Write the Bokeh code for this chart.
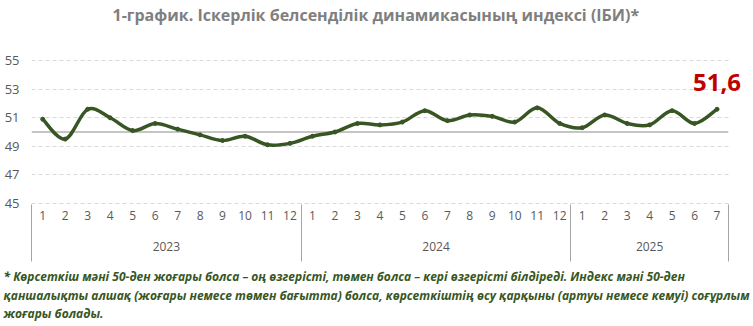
import numpy as np
from bokeh.plotting import figure
from bokeh.models import FixedTicker, LinearAxis, Label, Range1d, ColumnDataSource, Title
from bokeh.embed import file_html
from bokeh.resources import INLINE

title_text = "1-график. Іскерлік белсенділік динамикасының индексі (ІБИ)*"
years = ["2023", "2024", "2025"]
months_per_year = [12, 12, 7]
month_labels = [str(m) for m in range(1, 13)] + [str(m) for m in range(1, 13)] + [str(m) for m in range(1, 8)]
index_values = [50.9, 49.5, 51.6, 51.0, 50.1, 50.6, 50.2, 49.8, 49.4, 49.7, 49.1, 49.2,
                49.7, 50.0, 50.6, 50.5, 50.7, 51.5, 50.8, 51.2, 51.1, 50.7, 51.7, 50.6,
                50.3, 51.2, 50.6, 50.5, 51.5, 50.6, 51.6]
y_ticks = [45, 47, 49, 51, 53, 55]
threshold = 50
footnote_lines = [
    "* Көрсеткіш мәні 50-ден жоғары болса – оң өзгерісті, төмен болса – кері өзгерісті білдіреді. Индекс мәні 50-ден",
    "қаншалықты алшақ (жоғары немесе төмен бағытта) болса, көрсеткіштің өсу қарқыны (артуы немесе кемуі) соғұрлым",
    "жоғары болады.",
]

LINE_COLOR = "#375623"
GREY_TXT = "#595959"

n = len(index_values)
xs = np.arange(n, dtype=float)
ys = np.array(index_values, dtype=float)

# Smooth curve (Catmull-Rom style Bezier segments) through the data points
x0, y0, x1, y1, cx0, cy0, cx1, cy1 = [], [], [], [], [], [], [], []
for i in range(n - 1):
    pa = (xs[i - 1], ys[i - 1]) if i > 0 else (xs[i], ys[i])
    pb = (xs[i], ys[i])
    pc = (xs[i + 1], ys[i + 1])
    pd = (xs[i + 2], ys[i + 2]) if i + 2 < n else (xs[i + 1], ys[i + 1])
    x0.append(pb[0]); y0.append(pb[1]); x1.append(pc[0]); y1.append(pc[1])
    cx0.append(pb[0] + (pc[0] - pa[0]) / 6); cy0.append(pb[1] + (pc[1] - pa[1]) / 6)
    cx1.append(pc[0] - (pd[0] - pb[0]) / 6); cy1.append(pc[1] - (pd[1] - pb[1]) / 6)
bez = ColumnDataSource(dict(x0=x0, y0=y0, x1=x1, y1=y1, cx0=cx0, cy0=cy0, cx1=cx1, cy1=cy1))

x_lo, x_hi = -0.5, n - 0.5
pad_right = 0.9  # room for the end label (frame extends beyond the last category)
p = figure(width=753, height=326, x_range=Range1d(x_lo, x_hi + pad_right),
           y_range=Range1d(min(y_ticks) - 0.1, max(y_ticks) + 0.1),
           output_backend="svg", toolbar_location=None, x_axis_location=None,
           min_border_left=31, min_border_right=5, min_border_top=59, min_border_bottom=122)
p.outline_line_color = None
p.background_fill_color = "white"
p.border_fill_color = "white"

# title: spacer (nearest the frame) then the title text
p.add_layout(Title(text=" ", text_font_size="12px", standoff=18), "above")
p.add_layout(Title(text=title_text, align="left", offset=81, standoff=0, text_font="Open Sans",
                   text_font_style="bold", text_font_size="16px", text_color="#7f7f7f"), "above")

# y axis
p.yaxis.ticker = FixedTicker(ticks=y_ticks)
p.yaxis.axis_line_color = None
p.yaxis.major_tick_line_color = None
p.yaxis.minor_tick_line_color = None
p.yaxis.major_label_standoff = 6
p.yaxis.major_label_text_font = "Open Sans"
p.yaxis.major_label_text_font_size = "13px"
p.yaxis.major_label_text_color = GREY_TXT

p.xgrid.visible = False
p.ygrid.ticker = FixedTicker(ticks=y_ticks)
p.ygrid.grid_line_color = "#d9d9d9"
p.ygrid.grid_line_dash = "4 3"
p.ygrid.cross_bounds = (x_lo, x_hi)

# month axis with group separators as long minor ticks
bounds = [x_lo]
for m in months_per_year:
    bounds.append(bounds[-1] + m)
sep_len = 57
month_axis = LinearAxis(
    ticker=FixedTicker(ticks=list(range(n)), minor_ticks=bounds),
    major_label_overrides={i: lab for i, lab in enumerate(month_labels)},
    axis_line_color=None, major_tick_line_color=None,
    major_tick_in=0, major_tick_out=0, minor_tick_in=0, minor_tick_out=sep_len,
    minor_tick_line_color="#a6a6a6", minor_tick_line_width=1,
    major_label_standoff=6 - sep_len, major_label_text_font="Open Sans",
    major_label_text_font_size="12px", major_label_text_color=GREY_TXT,
)
p.add_layout(month_axis, "below")

centers = [(bounds[k] + bounds[k + 1]) / 2 for k in range(len(years))]
year_axis = LinearAxis(
    ticker=FixedTicker(ticks=centers, minor_ticks=[]),
    major_label_overrides={c: y for c, y in zip(centers, years)},
    axis_line_color=None, major_tick_line_color=None, minor_tick_line_color=None,
    major_tick_in=0, major_tick_out=0,
    major_label_standoff=19, major_label_text_font="Open Sans",
    major_label_text_font_size="12px", major_label_text_color=GREY_TXT,
)
p.add_layout(year_axis, "below")

# threshold line at 50
p.segment(x0=[x_lo], y0=[threshold], x1=[x_hi], y1=[threshold], line_color="#8c8c8c", line_width=1.2)

p.bezier(x0="x0", y0="y0", x1="x1", y1="y1", cx0="cx0", cy0="cy0", cx1="cx1", cy1="cy1",
         source=bez, line_color=LINE_COLOR, line_width=3.5, line_cap="round")
p.scatter(xs, ys, size=4, color=LINE_COLOR)

last_txt = f"{index_values[-1]:.1f}".replace(".", ",")
p.add_layout(Label(x=xs[-1], y=ys[-1], text=last_txt, y_offset=18, text_align="center",
                   text_baseline="bottom", text_font="Open Sans", text_font_style="bold",
                   text_font_size="24px", text_color="#c00000"))

# footnote: spacer then multi-line note
p.add_layout(Title(text=" ", text_font_size="9px", standoff=1), "below")
p.add_layout(Title(text="\n".join(footnote_lines), align="left", offset=-28, standoff=0,
                   text_line_height=1.1, text_font="Open Sans", text_font_style="bold italic",
                   text_font_size="12px", text_color=LINE_COLOR), "below")

open("out.html", "w").write(file_html(p, INLINE))
